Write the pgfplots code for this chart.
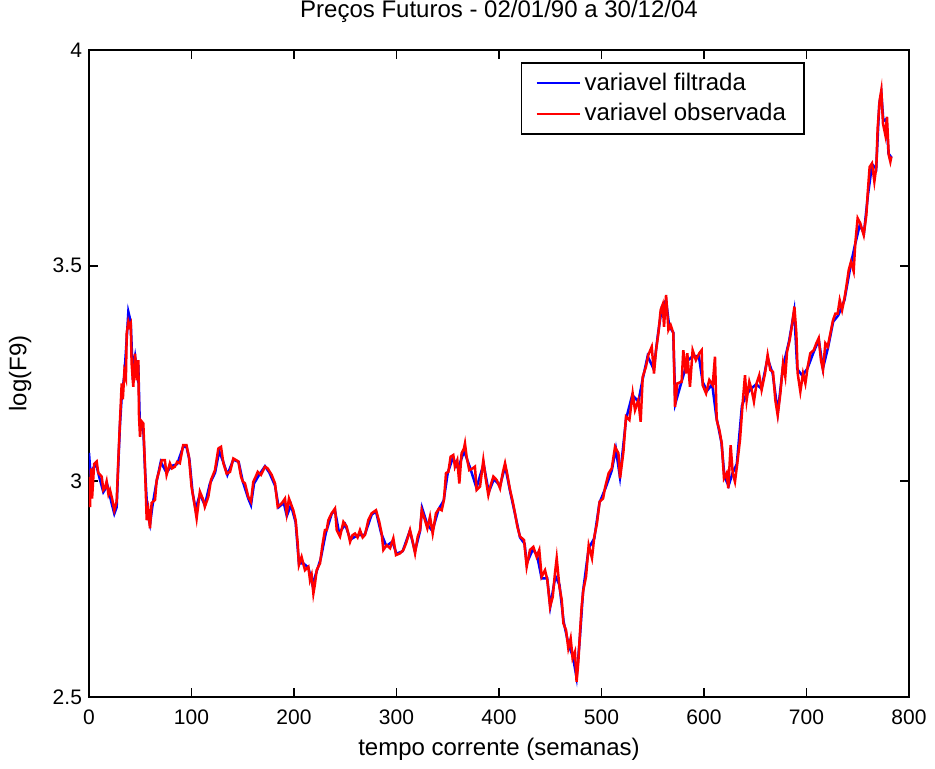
\documentclass[border=0pt]{standalone}
\usepackage{fontspec}
\setmainfont{Liberation Sans}
\usepackage{pgfplots}
\usepackage{pgfplotstable}
\pgfplotsset{compat=1.18}
\usetikzlibrary{calc}

\pgfplotstableread{
x y
0 3.01
1 2.94
2 3.03
3 2.96
5 3.04
7.5 3.046
9 3.02
12.4 3.011
14 2.98
15.6 2.985
17.2 3.0
19 2.97
20.5 2.98
22.5 2.96
24.7 2.933
27 2.953
28.6 3.049
30.2 3.138
31.9 3.227
33 3.19
34.5 3.254
36 3.24
36.8 3.343
38.4 3.37
39.5 3.36
40.7 3.366
41.6 3.273
43.2 3.219
44.9 3.296
46.5 3.234
48.1 3.281
48.8 3.15
49.8 3.103
51 3.14
53 3.134
54.6 3.034
56.3 2.91
57.9 2.933
59.5 2.891
61.1 2.95
64.4 2.957
66 3.003
68.2 3.022
71 3.049
74 3.049
75.7 3.015
78.9 3.042
81 3.03
83.8 3.034
86 3.045
88.6 3.042
91.9 3.084
95.1 3.084
97.5 3.057
100 2.988
103.3 2.941
105 2.914
108.2 2.976
111.5 2.957
113 2.941
116.4 2.964
119 3.003
122.9 3.026
126.2 3.076
128.8 3.08
131.1 3.042
134.3 3.018
137.6 3.022
140.8 3.053
143 3.05
145.7 3.046
148.3 3.011
150 3.0
152.2 2.995
155.4 2.964
158 2.953
160.3 2.999
162.5 3.01
164.6 3.022
167.8 3.015
171.7 3.034
174.3 3.03
178.2 3.015
181.5 2.995
184.1 2.941
188 2.949
191.2 2.96
192.9 2.926
195.1 2.96
199.3 2.933
201.6 2.91
203.6 2.856
204.8 2.806
207.4 2.825
210.7 2.794
214 2.802
215.6 2.771
217.2 2.783
218.9 2.74
220.5 2.763
222.1 2.794
225.4 2.81
227.6 2.85
230.2 2.887
231.9 2.887
233.5 2.91
236.8 2.926
240 2.937
241.7 2.887
244.9 2.872
248.2 2.906
251.4 2.895
254.7 2.86
257 2.875
259.5 2.879
262 2.87
264.4 2.887
267 2.87
269.3 2.876
272.5 2.91
275.8 2.926
280 2.933
283.2 2.906
285.5 2.879
287.2 2.841
290.4 2.852
293.7 2.845
296.9 2.868
299.5 2.829
303.4 2.833
306.7 2.841
309.3 2.856
313.2 2.887
315.8 2.86
318.1 2.833
320.7 2.872
323 2.887
324.6 2.933
327.8 2.91
330.1 2.891
332.7 2.918
335.3 2.879
338.5 2.926
341.5 2.937
344.1 2.933
346.3 2.957
348.3 3.019
350.6 3.022
352.8 3.057
355.4 3.061
357 3.034
359.3 3.049
361.3 2.995
363.5 3.065
365.8 3.076
366.8 3.088
368.4 3.057
371 3.026
374.3 3.03
376.5 3.034
378.2 2.98
381.5 2.988
384.7 3.049
387 3.007
389.6 2.968
391.9 2.991
394.5 3.011
397.8 3.003
401 2.984
403.6 3.019
405.9 3.042
408.2 3.015
410.8 2.98
413.4 2.953
415.6 2.926
417.9 2.895
420.5 2.872
424.4 2.864
427 2.802
430.2 2.841
433.5 2.848
436.7 2.825
439.3 2.841
441.6 2.779
444.9 2.794
447.2 2.771
449.8 2.709
452.4 2.732
454.6 2.787
456.3 2.822
458.9 2.756
461.2 2.725
462.8 2.671
465.4 2.655
467.6 2.613
469.9 2.636
471.8 2.59
474.1 2.605
475.7 2.535
477.4 2.582
479 2.648
480.6 2.709
482.3 2.748
484.9 2.779
487.5 2.852
490.7 2.822
493 2.872
495.6 2.903
498.2 2.953
501.5 2.96
503.7 2.988
507 3.019
510 3.03
513.2 3.08
516.5 3.065
518.1 3.007
521.4 3.069
523.9 3.15
527.2 3.142
530.4 3.204
532.7 3.165
535.9 3.188
538.2 3.138
540.2 3.242
543.4 3.266
545.7 3.293
549 3.312
551.2 3.25
553.2 3.304
555.5 3.343
557.7 3.397
559.7 3.41
561 3.358
563 3.432
565.3 3.351
567.5 3.362
570.1 3.343
571.7 3.173
574 3.227
578.2 3.231
579.8 3.304
582.4 3.25
583.7 3.297
586.3 3.219
588.9 3.304
592.1 3.281
595.4 3.297
597.7 3.304
598.7 3.223
602 3.204
605.2 3.235
608.5 3.223
610.7 3.289
612.4 3.142
615 3.119
617.3 3.088
619.5 3.007
622.1 3.019
623.7 2.984
626 3.084
628 3.019
630.2 2.999
632.5 3.042
635.1 3.096
637.7 3.181
640 3.246
641.6 3.188
644.2 3.231
646.5 3.212
648.7 3.185
651.3 3.227
653.9 3.246
656.2 3.212
659.5 3.25
662.1 3.293
664.7 3.258
667.3 3.254
669.6 3.188
671.9 3.153
674.5 3.204
677.1 3.273
679.3 3.243
681 3.3
683.6 3.328
685.9 3.362
688.2 3.405
690.1 3.343
691.4 3.25
694 3.208
696.6 3.25
698.9 3.227
701.2 3.266
703.7 3.297
707 3.304
709.6 3.32
711.9 3.332
714.1 3.281
716.1 3.258
718.4 3.32
720.7 3.312
723.3 3.343
725.9 3.374
728.2 3.389
730.4 3.389
732.4 3.42
734.7 3.397
737 3.424
738.9 3.452
741.2 3.49
743.4 3.509
746 3.487
747.6 3.552
749.9 3.61
752.5 3.598
755.8 3.571
758.4 3.618
759.7 3.668
761.6 3.729
763.9 3.737
766.2 3.695
768.1 3.729
769.4 3.818
771.4 3.884
773 3.907
774.6 3.83
776.9 3.803
778.5 3.845
780.2 3.757
781.8 3.741
782.8 3.753
}\observada

% variavel filtrada
\pgfplotstableread{
x y
0 3.066
2 3.0
4 3.03
7 3.04
10 3.01
14 2.975
18 2.99
22 2.95
24.7 2.925
27 2.94
28.6 3.04
30.2 3.13
32 3.2
34.5 3.245
36.8 3.33
38.4 3.393
40.7 3.37
42.5 3.26
44.9 3.29
47 3.25
48.1 3.27
49.5 3.14
51.5 3.12
53 3.12
54.6 3.03
57 2.925
59.5 2.9
62 2.945
66 3.0
70 3.045
75.7 3.02
80 3.035
86 3.04
91.9 3.08
95.1 3.08
98 3.05
101 2.975
104 2.935
108.2 2.97
113 2.945
118 2.995
123 3.02
127 3.07
131 3.045
135 3.015
140.8 3.05
146 3.045
150 3.0
155.4 2.96
158 2.945
161 2.995
166 3.015
171.7 3.035
176 3.02
181.5 2.99
185 2.94
190 2.95
193 2.92
197 2.945
201.6 2.905
204.8 2.81
209 2.81
214 2.8
218 2.76
222 2.79
226 2.82
231 2.88
236.8 2.925
240 2.932
244 2.88
250 2.9
255 2.865
262 2.875
269 2.876
275.8 2.923
280 2.93
285 2.88
290 2.85
296 2.86
300 2.832
306 2.838
313 2.885
318 2.838
323 2.885
325 2.938
330 2.9
335 2.885
341 2.935
346 2.955
350 3.02
355 3.055
360 3.03
366 3.07
372 3.03
378 2.985
385 3.04
390 2.975
395 3.005
401 2.99
406 3.035
411 2.975
416 2.92
420.5 2.87
425 2.855
427 2.81
433 2.842
437 2.83
441.6 2.775
447 2.775
450 2.71
455 2.78
459 2.76
463 2.675
468 2.62
472 2.595
475.7 2.545
479 2.64
482 2.745
487.5 2.845
493 2.868
498 2.95
504 2.985
510 3.025
514 3.075
518 3.01
524 3.145
530 3.2
536 3.185
540 3.235
545 3.29
551 3.26
555 3.34
559 3.405
563 3.42
566 3.36
570 3.345
572 3.18
578 3.23
584 3.28
589 3.29
595 3.29
598.7 3.23
603 3.21
608 3.225
612 3.15
617 3.09
620 3.01
624 2.99
628 3.02
632 3.04
637 3.175
641 3.2
646 3.215
651 3.225
656 3.215
662 3.285
667 3.25
672 3.16
677 3.265
683 3.325
688 3.395
691 3.26
696 3.245
701 3.262
707 3.3
712 3.328
716 3.262
721 3.31
726 3.37
731 3.385
737 3.42
743 3.5
747 3.545
752 3.595
756 3.575
760 3.665
764 3.735
768 3.725
771 3.875
773 3.9
775 3.835
778 3.84
780 3.76
783 3.75
}\filtrada

\begin{document}
\begin{tikzpicture}[font=\fontsize{12}{14}\selectfont]
\begin{axis}[
  scale only axis,
  width=410pt, height=323.5pt,
  xmin=0, xmax=800, ymin=2.5, ymax=4,
  xtick={0,100,...,800},
  ytick={2.5,3,3.5,4},
  tick align=inside,
  xtick pos=both, ytick pos=both,
  major tick length=4.5pt,
  axis line style={line width=0.9pt},
  every tick/.style={black, line width=0.9pt},
  /pgf/number format/assume math mode=true,
  tick label style={font=\fontsize{10.5}{12}\selectfont},
  xticklabel style={anchor=base, yshift=-14pt},
  title={Preços Futuros - 02/01/90 a 30/12/04},
  title style={at={(axis description cs:0.5,1)}, anchor=base, yshift=10pt},
  xlabel={tempo corrente (semanas)},
  xlabel style={at={(axis description cs:0.5,0)}, anchor=base, yshift=-29pt},
  ylabel={log(F9)},
  ylabel style={at={(axis description cs:-0.084,0.5)}, anchor=center},
  legend style={at={(axis description cs:0.873,0.981)}, anchor=north east,
    draw=black, line width=0.9pt, inner xsep=7pt, inner ysep=3pt,
    row sep=1pt, font=\fontsize{12}{14}\selectfont},
  legend cell align=left,
  legend image code/.code={\draw[#1] (0pt,0pt) -- (21.5pt,0pt);},
]
\addlegendimage{draw=blue, line width=1pt}
\addlegendentry{variavel filtrada}
\addlegendimage{draw=red, line width=1pt}
\addlegendentry{variavel observada}
\addplot[blue, line width=1.25pt, forget plot] table {\filtrada};
\addplot[red, line width=1.25pt, forget plot] table {\observada};
\end{axis}
\pgfresetboundingbox
\path[use as bounding box] ($(current axis.south west)+(-44.5pt,-36pt)$) rectangle ($(current axis.north east)+(13pt,25pt)$);
\end{tikzpicture}
\end{document}
